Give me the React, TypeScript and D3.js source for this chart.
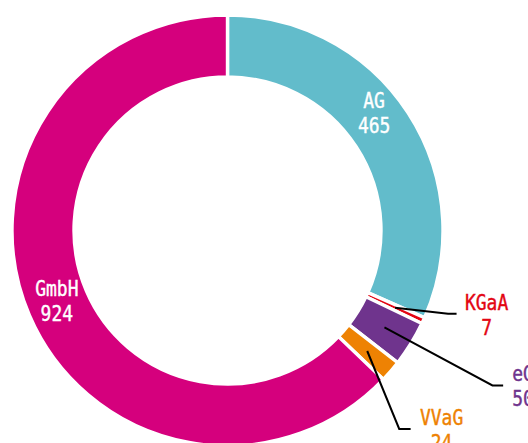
import React from "react";
import * as d3 from "d3";

const categories = ["AG", "KGaA", "eG", "VVaG", "GmbH"];
const values = [465, 7, 50, 24, 924];
const colors = ["#62bccb", "#e30613", "#6f348d", "#ee8203", "#d5007d"];
const insideLabel = [true, false, false, false, true];

// layout (not data)
const W = 528;
const H = 443;
const CX = 227.5;
const CY = 230.5;
const R_OUT = 215.5;
const R_IN = 153.5;
const FONT = "'DejaVu Sans Mono', monospace";
const FS = 18;
const SY = 1.15; // vertical stretch of the condensed-looking label font
// inside label offsets from centroid
const insideOffset: Record<string, [number, number]> = {
  AG: [-8, -16],
  GmbH: [-1, -1],
};
// leader elbow offsets relative to centroid, horizontal run, text offset
const leader: Record<string, { ex: number; ey: number; run: number; tx: number; anchor: string }> = {
  KGaA: { ex: 53, ey: 6, run: 8.5, tx: 30, anchor: "middle" },
  eG: { ex: 108, ey: 58, run: 10.7, tx: 9, anchor: "start" },
  VVaG: { ex: 32, ey: 78, run: 11.4, tx: 31, anchor: "middle" },
};

function Label({ x, y, lines, color, anchor }: { x: number; y: number; lines: string[]; color: string; anchor: string }) {
  return (
    <g transform={`translate(${x},${y}) scale(1,${SY})`}>
      <text
        fill={color}
        stroke={color}
        strokeWidth={0.35}
        fontFamily={FONT}
        fontSize={FS}
        textAnchor={anchor}
      >
        {lines.map((t, i) => (
          <tspan key={i} x={0} y={i * 25 / SY}>{t}</tspan>
        ))}
      </text>
    </g>
  );
}

export default function App() {
  const data = categories.map((c, i) => ({ c, v: values[i], color: colors[i], inside: insideLabel[i] }));
  const pie = d3
    .pie<any>()
    .value((d) => d.v)
    .sort(null)
    .startAngle(0)
    .endAngle(2 * Math.PI);
  const arcs = pie(data);
  const arc = d3.arc<any>().innerRadius(R_IN).outerRadius(R_OUT);

  return (
    <svg
      width={W}
      height={H}
      style={{ position: "absolute", left: 0, top: 0, background: "#fff" }}
    >
      <g transform={`translate(${CX},${CY})`}>
        {arcs.map((a, i) => (
          <path key={i} d={arc(a) as string} fill={a.data.color} stroke="#fff" strokeWidth={3.4} />
        ))}
        {arcs.map((a, i) => {
          const [x, y] = arc.centroid(a);
          const d = a.data;
          if (d.inside) {
            const off = insideOffset[d.c] || [0, 0];
            return (
              <Label key={"l" + i} x={x + off[0]} y={y + off[1] - 6} lines={[d.c, String(d.v)]} color="#fff" anchor="middle" />
            );
          }
          const L = leader[d.c];
          const ex = x + L.ex;
          const ey = y + L.ey;
          const hx = ex + L.run;
          const tx = hx + L.tx;
          return (
            <g key={"l" + i}>
              <polyline
                points={`${x},${y} ${ex},${ey} ${hx},${ey}`}
                fill="none"
                stroke="#000"
                strokeWidth={2}
              />
              <Label x={tx} y={ey - 4} lines={[d.c, String(d.v)]} color={d.color} anchor={L.anchor} />
            </g>
          );
        })}
      </g>
    </svg>
  );
}
